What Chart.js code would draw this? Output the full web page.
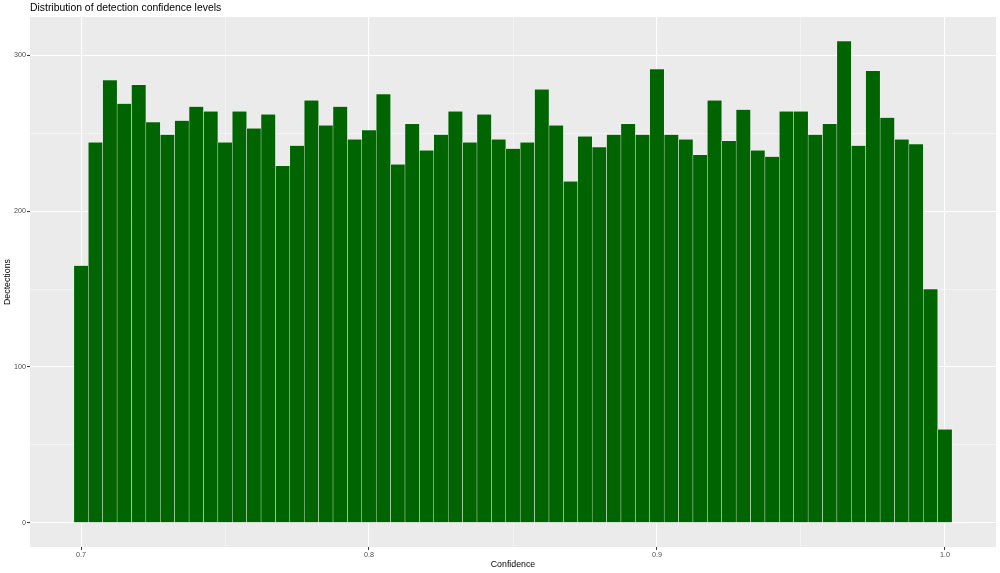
<!DOCTYPE html>
<html lang="en">
<head>
<meta charset="UTF-8">
<title>Distribution of detection confidence levels</title>
<script src="https://cdn.jsdelivr.net/npm/chart.js"></script>
<style>
  html, body { margin: 0; padding: 0; background: #fff; }
  #chart { display: block; }
</style>
</head>
<body>
<canvas id="chart" width="1000" height="573"></canvas>
<script>
  // histogram bins (width 0.005) and their counts
  const binCenters = [
    0.700, 0.705, 0.710, 0.715, 0.720, 0.725, 0.730, 0.735, 0.740, 0.745,
    0.750, 0.755, 0.760, 0.765, 0.770, 0.775, 0.780, 0.785, 0.790, 0.795,
    0.800, 0.805, 0.810, 0.815, 0.820, 0.825, 0.830, 0.835, 0.840, 0.845,
    0.850, 0.855, 0.860, 0.865, 0.870, 0.875, 0.880, 0.885, 0.890, 0.895,
    0.900, 0.905, 0.910, 0.915, 0.920, 0.925, 0.930, 0.935, 0.940, 0.945,
    0.950, 0.955, 0.960, 0.965, 0.970, 0.975, 0.980, 0.985, 0.990, 0.995,
    1.000
  ];
  const counts = [
    165, 244, 284, 269, 281, 257, 249, 258, 267, 264,
    244, 264, 253, 262, 229, 242, 271, 255, 267, 246,
    252, 275, 230, 256, 239, 249, 264, 244, 262, 246,
    240, 244, 278, 255, 219, 248, 241, 249, 256, 249,
    291, 249, 246, 236, 271, 245, 265, 239, 235, 264,
    264, 249, 256, 309, 242, 290, 260, 246, 243, 150,
    60
  ];

  // grid positions (major ones get a label)
  const xTicks = [0.7, 0.75, 0.8, 0.85, 0.9, 0.95, 1.0];
  const xMajor = [0.7, 0.8, 0.9, 1.0];
  const yTicks = [0, 50, 100, 150, 200, 250, 300];
  const yMajor = [0, 100, 200, 300];

  const panelBg = {
    id: 'panelBg',
    beforeDraw(chart) {
      const { ctx, chartArea: a } = chart;
      ctx.save();
      ctx.fillStyle = '#EBEBEB';
      ctx.fillRect(a.left, a.top, a.width, a.height);
      ctx.restore();
    }
  };

  const plotTitle = {
    id: 'plotTitle',
    afterDraw(chart) {
      const { ctx, chartArea: a } = chart;
      ctx.save();
      ctx.fillStyle = '#000';
      ctx.font = '10.4px "Liberation Sans", Arial, sans-serif';
      ctx.textBaseline = 'middle';
      ctx.fillText('Distribution of detection confidence levels', a.left, 8);
      ctx.restore();
    }
  };

  const isMajor = (list, v) => list.some(m => Math.abs(m - v) < 1e-9);
  const tickMajor = (list, c) => !!(c.tick && isMajor(list, c.tick.value));

  function gridFor(list) {
    return {
      offset: false,
      color: c => tickMajor(list, c) ? '#FFFFFF' : 'rgba(255,255,255,0.75)',
      lineWidth: c => tickMajor(list, c) ? 1.1 : 0.55,
      tickColor: c => tickMajor(list, c) ? '#333333' : 'rgba(0,0,0,0)',
      tickLength: 3,
      tickWidth: 1
    };
  }

  const tickFont = { family: '"Liberation Sans", Arial, sans-serif', size: 7.2 };
  const titleFont = { family: '"Liberation Sans", Arial, sans-serif', size: 8.8 };

  new Chart(document.getElementById('chart'), {
    type: 'bar',
    data: {
      datasets: [{
        data: binCenters.map((x, i) => ({ x: x, y: counts[i] })),
        backgroundColor: '#006400',
        borderColor: 'rgba(255,255,255,0.85)',
        borderWidth: 0.5,
        barPercentage: 1,
        categoryPercentage: 1
      }]
    },
    options: {
      responsive: false,
      animation: false,
      layout: { padding: { top: 17, right: 4, left: 0, bottom: 0 } },
      plugins: {
        legend: { display: false },
        tooltip: { enabled: false },
        title: { display: false }
      },
      scales: {
        x: {
          type: 'linear',
          offset: false,
          min: 0.68225,
          max: 1.01775,
          afterBuildTicks: s => { s.ticks = xTicks.map(v => ({ value: v })); },
          afterFit: s => { s.height = 26; },
          grid: gridFor(xMajor),
          border: { display: false },
          ticks: {
            padding: 1,
            maxRotation: 0,
            autoSkip: false,
            color: '#4D4D4D',
            font: tickFont,
            callback: v => isMajor(xMajor, v) ? v.toFixed(1) : ''
          },
          title: {
            display: true,
            text: 'Confidence',
            color: '#000',
            font: titleFont,
            padding: { top: 0, bottom: 3 }
          }
        },
        y: {
          min: -15.45,
          max: 324.45,
          afterBuildTicks: s => { s.ticks = yTicks.map(v => ({ value: v })); },
          afterFit: s => { s.width = 30; },
          grid: gridFor(yMajor),
          border: { display: false },
          ticks: {
            padding: 1,
            autoSkip: false,
            color: '#4D4D4D',
            font: tickFont,
            callback: v => isMajor(yMajor, v) ? String(v) : ''
          },
          title: {
            display: true,
            text: 'Dectections',
            color: '#000',
            font: titleFont,
            padding: { top: 2, bottom: 0 }
          }
        }
      }
    },
    plugins: [panelBg, plotTitle]
  });
</script>
</body>
</html>
